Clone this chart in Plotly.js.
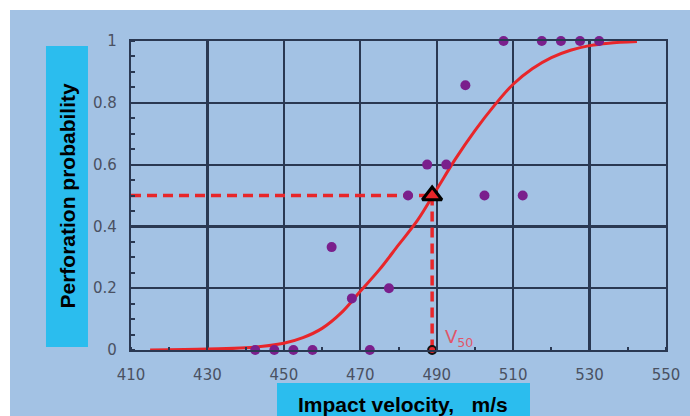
<!DOCTYPE html>
<html>
<head>
<meta charset="utf-8">
<script src="https://cdn.plot.ly/plotly-3.0.1.min.js"></script>
<style>
  html, body { margin: 0; padding: 0; background: #ffffff; }
  #wrap { position: relative; width: 690px; height: 416px; background: #ffffff; overflow: hidden; }
  #bg { position: absolute; left: 10px; top: 10px; width: 680px; height: 406px; background: #a3c2e4; }
  #chart { position: absolute; left: 0; top: 0; width: 690px; height: 416px; }
</style>
</head>
<body>
<div id="wrap"><div id="bg"></div><div id="chart"></div></div>
<script>
// Experimental points (impact velocity, perforation probability)
const pointVelocity = [442.5, 447.5, 452.5, 457.5, 472.5, 467.8, 477.5, 462.5, 482.5, 502.5, 512.5, 487.5, 492.5, 497.5, 507.5, 517.5, 522.5, 527.5, 532.5];
const pointProbability = [0, 0, 0, 0, 0, 0.167, 0.2, 0.333, 0.5, 0.5, 0.5, 0.6, 0.6, 0.857, 1, 1, 1, 1, 1];

// Fitted curve
const curveVelocity = [415, 430, 440, 450, 455, 460, 465, 470, 475, 480, 485, 490, 495, 500, 505, 510, 515, 520, 525, 530, 535, 542.4];
const curveProbability = [0.0, 0.003, 0.007, 0.022, 0.04, 0.07, 0.12, 0.19, 0.26, 0.34, 0.42, 0.52, 0.62, 0.71, 0.79, 0.86, 0.91, 0.946, 0.97, 0.985, 0.993, 0.998];

// V50 marker
const v50 = [488.8];
const v50Prob = [0.5];
const axisStart = [410];
const zeroProb = [0];

const xTicks = [410, 430, 450, 470, 490, 510, 530, 550];
const yTicks = [0, 0.2, 0.4, 0.6, 0.8, 1];
const yTickText = ['0', '0.2', '0.4', '0.6', '0.8', '1'];

const red = '#e8262a';
const gridColor = '#2a3852';

const traces = [
  {
    x: [axisStart[0], v50[0]], y: [v50Prob[0], v50Prob[0]],
    mode: 'lines', line: {color: red, width: 3.5, dash: '10px,6px'},
    hoverinfo: 'skip', showlegend: false
  },
  {
    x: [v50[0], v50[0]], y: [v50Prob[0], zeroProb[0]],
    mode: 'lines', line: {color: red, width: 3.5, dash: '10px,6px'},
    hoverinfo: 'skip', showlegend: false
  },
  {
    x: curveVelocity, y: curveProbability,
    mode: 'lines', line: {color: red, width: 3, shape: 'spline', smoothing: 1},
    showlegend: false, cliponaxis: false
  },
  {
    x: pointVelocity, y: pointProbability,
    mode: 'markers', marker: {color: '#7a1f8c', size: 10},
    showlegend: false, cliponaxis: false
  },
  {
    x: v50, y: v50Prob,
    mode: 'markers', marker: {symbol: 'triangle-up', size: 17, color: red, line: {color: '#000000', width: 3}},
    showlegend: false, cliponaxis: false
  },
  {
    x: v50, y: zeroProb,
    mode: 'markers', marker: {symbol: 'circle', size: 8, color: red, line: {color: '#111111', width: 2}},
    showlegend: false, cliponaxis: false
  }
];

const tickFont = {family: 'DejaVu Sans', size: 15, color: '#4a5162'};

const layout = {
  width: 690, height: 416,
  margin: {l: 131, r: 24, t: 41, b: 66},
  paper_bgcolor: 'rgba(0,0,0,0)',
  plot_bgcolor: 'rgba(0,0,0,0)',
  showlegend: false,
  xaxis: {
    range: [410, 550], tickmode: 'array', tickvals: xTicks,
    showgrid: true, gridcolor: gridColor, gridwidth: 2.2,
    zeroline: false, showline: true, linecolor: gridColor, linewidth: 2.2, mirror: true,
    ticks: '', tickfont: tickFont, ticklabelstandoff: 10,
    minor: {dtick: 10, tick0: 410, ticks: 'inside', ticklen: 3, tickcolor: gridColor, tickwidth: 2, showgrid: false}
  },
  yaxis: {
    range: [0, 1], tickmode: 'array', tickvals: yTicks, ticktext: yTickText,
    showgrid: true, gridcolor: gridColor, gridwidth: 2.2,
    zeroline: false, showline: true, linecolor: gridColor, linewidth: 2.2, mirror: true,
    ticks: '', tickfont: tickFont, ticklabelstandoff: 9,
    minor: {dtick: 0.05, tick0: 0, ticks: 'inside', ticklen: 4, tickcolor: gridColor, tickwidth: 2, showgrid: false}
  },
  shapes: [
    {type: 'rect', xref: 'paper', yref: 'paper', x0: -0.1589, x1: -0.0804, y0: 0.0097, y1: 0.9838,
     fillcolor: '#2bbdee', line: {width: 0}, layer: 'below'},
    {type: 'rect', xref: 'paper', yref: 'paper', x0: 0.2729, x1: 0.7458, y0: -0.2136, y1: -0.1068,
     fillcolor: '#2bbdee', line: {width: 0}, layer: 'below'}
  ],
  annotations: [
    {xref: 'paper', yref: 'paper', x: -0.1196, y: 0.50, text: 'Perforation probability',
     textangle: -90, showarrow: false, xanchor: 'center', yanchor: 'middle',
     font: {family: 'Liberation Sans, Arial', size: 21, color: '#000000', weight: 'bold'}},
    {xref: 'paper', yref: 'paper', x: 0.5093, y: -0.176, text: 'Impact velocity,\u00a0\u00a0\u00a0m/s',
     showarrow: false, xanchor: 'center', yanchor: 'middle',
     font: {family: 'Liberation Sans, Arial', size: 21, color: '#000000', weight: 'bold'}},
    {xref: 'x', yref: 'y', x: 495.8, y: 0.04, text: 'V<sub>50</sub>',
     showarrow: false, xanchor: 'center', yanchor: 'middle',
     font: {family: 'DejaVu Sans', size: 18, color: '#e0566a'}}
  ]
};

Plotly.newPlot('chart', traces, layout, {displayModeBar: false, staticPlot: true});
</script>
</body>
</html>
